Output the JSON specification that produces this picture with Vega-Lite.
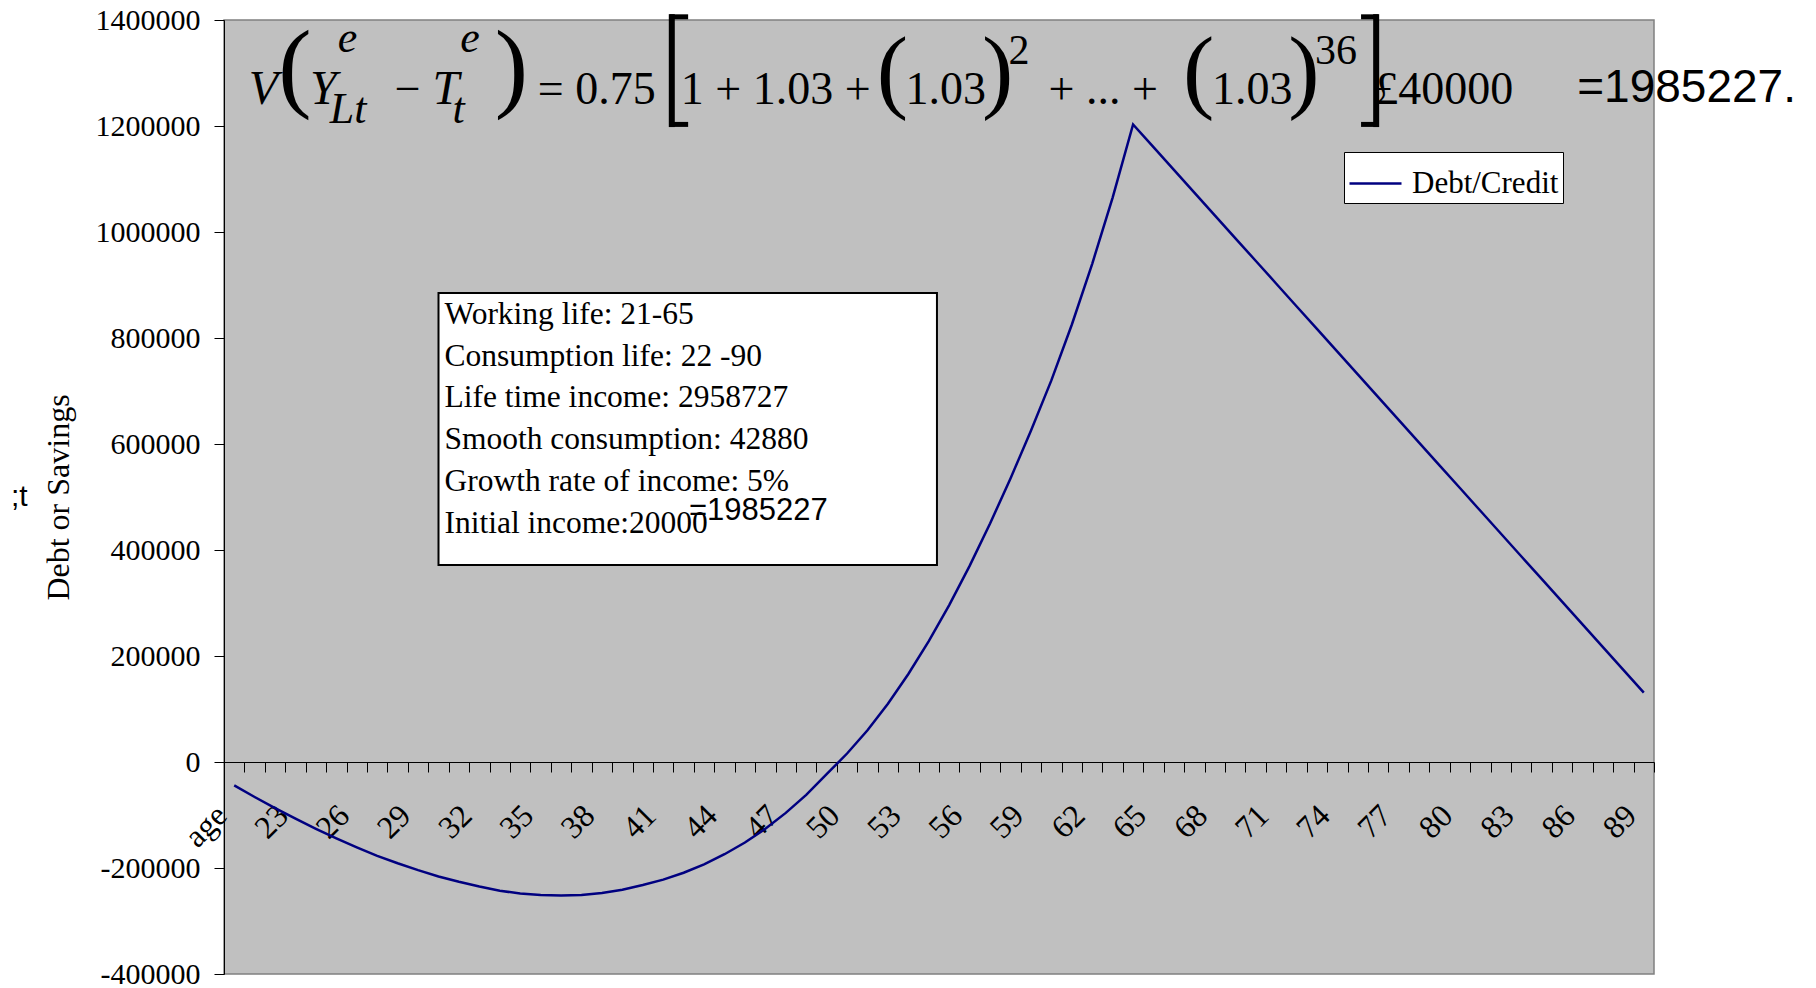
{
  "$schema": "https://vega.github.io/schema/vega-lite/v6.json",
  "width": 1430,
  "height": 954,
  "autosize": {"type": "none"},
  "padding": {"left": 224, "top": 20, "right": 162, "bottom": 14},
  "background": "white",
  "title": {"text": ";t", "orient": "left", "angle": 0, "anchor": "middle", "baseline": "middle", "font": "Liberation Sans", "fontSize": 30, "fontWeight": "normal", "color": "black", "offset": 6},
  "config": {
    "view": {"fill": "#C0C0C0", "stroke": "#808080", "strokeWidth": 1.5},
    "axis": {
      "labelFont": "Liberation Serif",
      "labelColor": "black",
      "titleFont": "Liberation Serif",
      "titleFontSize": 32,
      "titleFontWeight": "normal",
      "titleColor": "black",
      "tickColor": "black",
      "domainColor": "black",
      "tickSize": 10,
      "grid": false
    }
  },
  "datasets": {
    "series": [
      {"age": "age", "value": -44000}, {"age": "21", "value": -66000}, {"age": "22", "value": -87000},
      {"age": "23", "value": -107000}, {"age": "24", "value": -126000}, {"age": "25", "value": -144000},
      {"age": "26", "value": -161000}, {"age": "27", "value": -177000}, {"age": "28", "value": -191000},
      {"age": "29", "value": -204000}, {"age": "30", "value": -216000}, {"age": "31", "value": -226000},
      {"age": "32", "value": -235000}, {"age": "33", "value": -243000}, {"age": "34", "value": -248000},
      {"age": "35", "value": -251000}, {"age": "36", "value": -252000}, {"age": "37", "value": -251000},
      {"age": "38", "value": -247000}, {"age": "39", "value": -241000}, {"age": "40", "value": -232000},
      {"age": "41", "value": -222000}, {"age": "42", "value": -209000}, {"age": "43", "value": -193000},
      {"age": "44", "value": -174000}, {"age": "45", "value": -152000}, {"age": "46", "value": -126000},
      {"age": "47", "value": -96000}, {"age": "48", "value": -62000}, {"age": "49", "value": -23000},
      {"age": "50", "value": 16000}, {"age": "51", "value": 60000}, {"age": "52", "value": 110000},
      {"age": "53", "value": 166000}, {"age": "54", "value": 228000}, {"age": "55", "value": 296000},
      {"age": "56", "value": 370000}, {"age": "57", "value": 450000}, {"age": "58", "value": 535000},
      {"age": "59", "value": 625000}, {"age": "60", "value": 720000}, {"age": "61", "value": 825000},
      {"age": "62", "value": 940000}, {"age": "63", "value": 1065000}, {"age": "64", "value": 1203000},
      {"age": "65", "value": 1160120}, {"age": "66", "value": 1117240}, {"age": "67", "value": 1074360},
      {"age": "68", "value": 1031480}, {"age": "69", "value": 988600}, {"age": "70", "value": 945720},
      {"age": "71", "value": 902840}, {"age": "72", "value": 859960}, {"age": "73", "value": 817080},
      {"age": "74", "value": 774200}, {"age": "75", "value": 731320}, {"age": "76", "value": 688440},
      {"age": "77", "value": 645560}, {"age": "78", "value": 602680}, {"age": "79", "value": 559800},
      {"age": "80", "value": 516920}, {"age": "81", "value": 474040}, {"age": "82", "value": 431160},
      {"age": "83", "value": 388280}, {"age": "84", "value": 345400}, {"age": "85", "value": 302520},
      {"age": "86", "value": 259640}, {"age": "87", "value": 216760}, {"age": "88", "value": 173880},
      {"age": "89", "value": 131000}
    ],
    "italic": [
      {"age": "21", "value": 1241500, "text": "V"},
      {"age": "24", "value": 1241500, "text": "Y"},
      {"age": "30", "value": 1241500, "text": "T"}
    ],
    "supE": [
      {"age": "25", "value": 1339600, "text": "e"},
      {"age": "31", "value": 1339600, "text": "e"}
    ],
    "sub": [
      {"age": "25", "value": 1205700, "text": "Lt"},
      {"age": "31", "value": 1205700, "text": "t"}
    ],
    "main": [
      {"age": "28", "value": 1241500, "text": "−"},
      {"age": "35", "value": 1241500, "text": "= 0.75"},
      {"age": "42", "value": 1241500, "text": "1 + 1.03 +"},
      {"age": "53", "value": 1241500, "text": "1.03"},
      {"age": "60", "value": 1241500, "text": "+ ... +"},
      {"age": "68", "value": 1241500, "text": "1.03"},
      {"age": "76", "value": 1241500, "text": "£40000"}
    ],
    "outerOpen": [
      {"age": "22", "value": 1251000, "text": "("}
    ],
    "outerClose": [
      {"age": "33", "value": 1251000, "text": ")"}
    ],
    "innerOpen": [
      {"age": "51", "value": 1247000, "text": "("},
      {"age": "66", "value": 1247000, "text": "("}
    ],
    "innerClose": [
      {"age": "57", "value": 1247000, "text": ")"},
      {"age": "72", "value": 1247000, "text": ")"}
    ],
    "power": [
      {"age": "58", "value": 1317000, "text": "2"},
      {"age": "73", "value": 1317000, "text": "36"}
    ],
    "openStem": [
      {"age": "41", "value": 1411000, "value2": 1198000}
    ],
    "openSerif": [
      {"age": "41", "age2": "42", "value": 1406000},
      {"age": "41", "age2": "42", "value": 1203000}
    ],
    "closeStem": [
      {"age": "76", "value": 1411000, "value2": 1198000}
    ],
    "closeSerif": [
      {"age": "75", "age2": "76", "value": 1406000},
      {"age": "75", "age2": "76", "value": 1203000}
    ],
    "resultBig": [
      {"age": "86", "value": 1245300, "text": "=1985227."}
    ],
    "box": [
      {"age": "30", "age2": "54", "value": 884900, "value2": 371700}
    ],
    "boxText": [
      {"age": "30", "value": 826400, "text": "Working life: 21-65"},
      {"age": "30", "value": 747800, "text": "Consumption life: 22 -90"},
      {"age": "30", "value": 669100, "text": "Life time income: 2958727"},
      {"age": "30", "value": 590400, "text": "Smooth consumption: 42880"},
      {"age": "30", "value": 511700, "text": "Growth rate of income: 5%"},
      {"age": "30", "value": 433000, "text": "Initial income:20000"}
    ],
    "resultSmall": [
      {"age": "42", "value": 456600, "text": "=1985227"}
    ]
  },
  "layer": [
    {
      "data": {"name": "series"},
      "mark": {"type": "line", "strokeWidth": 2.5},
      "encoding": {
        "x": {
          "field": "age",
          "type": "nominal",
          "sort": null,
          "scale": {
            "type": "band",
            "paddingInner": 0,
            "paddingOuter": 0,
            "domain": ["age", "21", "22", "23", "24", "25", "26", "27", "28", "29", "30", "31", "32", "33", "34", "35", "36", "37", "38", "39", "40", "41", "42", "43", "44", "45", "46", "47", "48", "49", "50", "51", "52", "53", "54", "55", "56", "57", "58", "59", "60", "61", "62", "63", "64", "65", "66", "67", "68", "69", "70", "71", "72", "73", "74", "75", "76", "77", "78", "79", "80", "81", "82", "83", "84", "85", "86", "87", "88", "89"]
          },
          "axis": {
            "title": null,
            "offset": -212,
            "tickBand": "extent",
            "labelAngle": -45,
            "labelAlign": "right",
            "labelBaseline": "middle",
            "labelPadding": 38,
            "labelOffset": -13,
            "labelFont": "Liberation Serif",
            "labelFontSize": 32,
            "labelOverlap": false,
            "labelBound": false,
            "labelFlush": false,
            "labelExpr": "datum.value == 'age' || (toNumber(datum.value) - 20) % 3 == 0 ? datum.label : ''"
          }
        },
        "y": {
          "field": "value",
          "type": "quantitative",
          "scale": {"domain": [-400000, 1400000], "nice": false, "zero": false},
          "axis": {
            "title": "Debt or Savings",
            "values": [-400000, -200000, 0, 200000, 400000, 600000, 800000, 1000000, 1200000, 1400000],
            "labelExpr": "'' + datum.value",
            "labelFont": "Liberation Serif",
            "labelFontSize": 30,
            "labelPadding": 14,
            "titlePadding": 20
          }
        },
        "color": {
          "datum": "Debt/Credit",
          "type": "nominal",
          "scale": {"range": ["#000080"]},
          "legend": {
            "title": null,
            "orient": "none",
            "legendX": 1120,
            "legendY": 132,
            "fillColor": "white",
            "strokeColor": "black",
            "padding": 4,
            "symbolType": "stroke",
            "symbolSize": 2704,
            "symbolStrokeWidth": 2.5,
            "labelFont": "Liberation Serif",
            "labelFontSize": 31,
            "labelColor": "black",
            "labelOffset": 9
          }
        }
      }
    },
    {
      "data": {"name": "italic"},
      "mark": {"type": "text", "font": "Liberation Serif", "fontStyle": "italic", "fontSize": 48, "align": "left", "baseline": "alphabetic", "color": "black"},
      "encoding": {
        "x": {"field": "age", "type": "nominal", "bandPosition": 0.21},
        "y": {"field": "value", "type": "quantitative"},
        "text": {"field": "text"}
      }
    },
    {
      "data": {"name": "supE"},
      "mark": {"type": "text", "font": "Liberation Serif", "fontStyle": "italic", "fontSize": 44, "align": "left", "baseline": "alphabetic", "color": "black"},
      "encoding": {
        "x": {"field": "age", "type": "nominal", "bandPosition": 0.57},
        "y": {"field": "value", "type": "quantitative"},
        "text": {"field": "text"}
      }
    },
    {
      "data": {"name": "sub"},
      "mark": {"type": "text", "font": "Liberation Serif", "fontStyle": "italic", "fontSize": 44, "align": "left", "baseline": "alphabetic", "color": "black"},
      "encoding": {
        "x": {"field": "age", "type": "nominal", "bandPosition": 0.18},
        "y": {"field": "value", "type": "quantitative"},
        "text": {"field": "text"}
      }
    },
    {
      "data": {"name": "main"},
      "mark": {"type": "text", "font": "Liberation Serif", "fontSize": 46, "align": "left", "baseline": "alphabetic", "color": "black"},
      "encoding": {
        "x": {"field": "age", "type": "nominal", "bandPosition": 0.36},
        "y": {"field": "value", "type": "quantitative"},
        "text": {"field": "text"}
      }
    },
    {
      "data": {"name": "outerOpen"},
      "mark": {"type": "text", "font": "Liberation Serif", "fontSize": 100, "align": "left", "baseline": "alphabetic", "color": "black"},
      "encoding": {
        "x": {"field": "age", "type": "nominal", "bandPosition": 0.65},
        "y": {"field": "value", "type": "quantitative"},
        "text": {"field": "text"}
      }
    },
    {
      "data": {"name": "outerClose"},
      "mark": {"type": "text", "font": "Liberation Serif", "fontSize": 100, "align": "left", "baseline": "alphabetic", "color": "black"},
      "encoding": {
        "x": {"field": "age", "type": "nominal", "bandPosition": 0.25},
        "y": {"field": "value", "type": "quantitative"},
        "text": {"field": "text"}
      }
    },
    {
      "data": {"name": "innerOpen"},
      "mark": {"type": "text", "font": "Liberation Serif", "fontSize": 94, "align": "left", "baseline": "alphabetic", "color": "black"},
      "encoding": {
        "x": {"field": "age", "type": "nominal", "bandPosition": 0.95},
        "y": {"field": "value", "type": "quantitative"},
        "text": {"field": "text"}
      }
    },
    {
      "data": {"name": "innerClose"},
      "mark": {"type": "text", "font": "Liberation Serif", "fontSize": 94, "align": "left", "baseline": "alphabetic", "color": "black"},
      "encoding": {
        "x": {"field": "age", "type": "nominal", "bandPosition": 0.1},
        "y": {"field": "value", "type": "quantitative"},
        "text": {"field": "text"}
      }
    },
    {
      "data": {"name": "power"},
      "mark": {"type": "text", "font": "Liberation Serif", "fontSize": 42, "align": "left", "baseline": "alphabetic", "color": "black"},
      "encoding": {
        "x": {"field": "age", "type": "nominal", "bandPosition": 0.4},
        "y": {"field": "value", "type": "quantitative"},
        "text": {"field": "text"}
      }
    },
    {
      "data": {"name": "openStem"},
      "mark": {"type": "rule", "strokeWidth": 6, "color": "black"},
      "encoding": {
        "x": {"field": "age", "type": "nominal", "bandPosition": 0.92},
        "y": {"field": "value", "type": "quantitative"},
        "y2": {"field": "value2"}
      }
    },
    {
      "data": {"name": "openSerif"},
      "mark": {"type": "rule", "strokeWidth": 5, "color": "black"},
      "encoding": {
        "x": {"field": "age", "type": "nominal", "bandPosition": 0.82},
        "x2": {"field": "age2", "bandPosition": 0.72},
        "y": {"field": "value", "type": "quantitative"}
      }
    },
    {
      "data": {"name": "closeStem"},
      "mark": {"type": "rule", "strokeWidth": 6, "color": "black"},
      "encoding": {
        "x": {"field": "age", "type": "nominal", "bandPosition": 0.4},
        "y": {"field": "value", "type": "quantitative"},
        "y2": {"field": "value2"}
      }
    },
    {
      "data": {"name": "closeSerif"},
      "mark": {"type": "rule", "strokeWidth": 5, "color": "black"},
      "encoding": {
        "x": {"field": "age", "type": "nominal", "bandPosition": 0.66},
        "x2": {"field": "age2", "bandPosition": 0.5},
        "y": {"field": "value", "type": "quantitative"}
      }
    },
    {
      "data": {"name": "resultBig"},
      "mark": {"type": "text", "font": "Liberation Sans", "fontSize": 46, "align": "left", "baseline": "alphabetic", "color": "black"},
      "encoding": {
        "x": {"field": "age", "type": "nominal", "bandPosition": 0.24},
        "y": {"field": "value", "type": "quantitative"},
        "text": {"field": "text"}
      }
    },
    {
      "data": {"name": "box"},
      "mark": {"type": "rect", "fill": "white", "stroke": "black", "strokeWidth": 2},
      "encoding": {
        "x": {"field": "age", "type": "nominal", "bandPosition": 0.5},
        "x2": {"field": "age2", "bandPosition": 0.9},
        "y": {"field": "value", "type": "quantitative"},
        "y2": {"field": "value2"}
      }
    },
    {
      "data": {"name": "boxText"},
      "mark": {"type": "text", "font": "Liberation Serif", "fontSize": 31.5, "align": "left", "baseline": "alphabetic", "color": "black"},
      "encoding": {
        "x": {"field": "age", "type": "nominal", "bandPosition": 0.79},
        "y": {"field": "value", "type": "quantitative"},
        "text": {"field": "text"}
      }
    },
    {
      "data": {"name": "resultSmall"},
      "mark": {"type": "text", "font": "Liberation Sans", "fontSize": 31, "align": "left", "baseline": "alphabetic", "color": "black"},
      "encoding": {
        "x": {"field": "age", "type": "nominal", "bandPosition": 0.76},
        "y": {"field": "value", "type": "quantitative"},
        "text": {"field": "text"}
      }
    }
  ]
}
